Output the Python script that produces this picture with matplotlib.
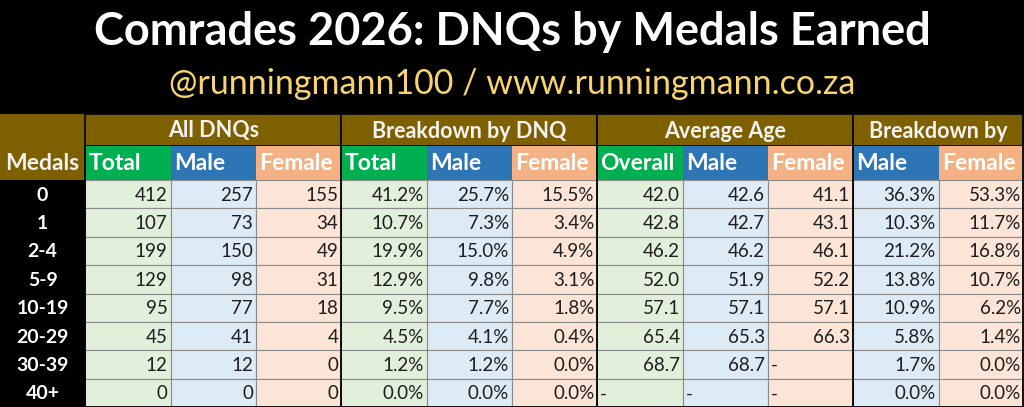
import matplotlib
matplotlib.use("Agg")
import matplotlib.pyplot as plt
from matplotlib.patches import Rectangle

# table data
medals = ['0', '1', '2-4', '5-9', '10-19', '20-29', '30-39', '40+']
total = [412, 107, 199, 129, 95, 45, 12, 0]
male = [257, 73, 150, 98, 77, 41, 12, 0]
female = [155, 34, 49, 31, 18, 4, 0, 0]
pct_total = [41.2, 10.7, 19.9, 12.9, 9.5, 4.5, 1.2, 0.0]
pct_male = [25.7, 7.3, 15.0, 9.8, 7.7, 4.1, 1.2, 0.0]
pct_female = [15.5, 3.4, 4.9, 3.1, 1.8, 0.4, 0.0, 0.0]
age_overall = [42.0, 42.8, 46.2, 52.0, 57.1, 65.4, 68.7, None]
age_male = [42.6, 42.7, 46.2, 51.9, 57.1, 65.3, 68.7, None]
age_female = [41.1, 43.1, 46.1, 52.2, 57.1, 66.3, None, None]
gender_male = [36.3, 10.3, 21.2, 13.8, 10.9, 5.8, 1.7, 0.0]
gender_female = [53.3, 11.7, 16.8, 10.7, 6.2, 1.4, 0.0, 0.0]

groups = ['All DNQs', 'Breakdown by DNQ', 'Average Age', 'Breakdown by']
group_spans = [(1, 3), (4, 6), (7, 9), (10, 11)]
sub_headers = ['Total', 'Male', 'Female', 'Total', 'Male', 'Female',
               'Overall', 'Male', 'Female', 'Male', 'Female']
sub_kind = ['g', 'b', 'f', 'g', 'b', 'f', 'g', 'b', 'f', 'b', 'f']

title = 'Comrades 2026: DNQs by Medals Earned'
subtitle = '@runningmann100 / www.runningmann.co.za'

# colours (Excel style)
BROWN = '#7f6000'
HEAD = {'g': '#00b050', 'b': '#2e75b6', 'f': '#f4b183'}
LIGHT = {'g': '#e2efda', 'b': '#ddebf7', 'f': '#fce4d6'}
TXT = '#1e1e1e'

plt.rcParams['font.family'] = ['Lato', 'DejaVu Sans']

W, H = 1024, 407
fig = plt.figure(figsize=(W / 100, H / 100), dpi=100, facecolor='black')
ax = fig.add_axes([0, 0, 1, 1])
ax.set_xlim(0, W)
ax.set_ylim(H, 0)
ax.axis('off')

ncol = 12
cw = W / ncol
h1_top, h2_top, data_top = 114, 146, 180
rh = (H - data_top) / len(medals)

ax.text(W / 2, 32, title, color='white', fontsize=32.5, fontweight='bold',
        ha='center', va='center')
ax.text(W / 2, 84, subtitle, color='#f7d46f', fontsize=24.5,
        ha='center', va='center')

# group header row
ax.add_patch(Rectangle((0, h1_top), cw, data_top - h1_top, color=BROWN, lw=0))
for name, (a, b) in zip(groups, group_spans):
    x0 = a * cw
    ax.add_patch(Rectangle((x0, h1_top), (b - a + 1) * cw, h2_top - h1_top,
                           facecolor=BROWN, edgecolor='black', lw=1.2))
    ax.text(x0 + (b - a + 1) * cw / 2, (h1_top + h2_top) / 2 + 1, name,
            color='#f2f2f2', fontsize=15.5, fontweight='bold', ha='center', va='center')

ax.text(cw / 2, (h2_top + data_top) / 2 + 1, 'Medals', color='#f2f2f2',
        fontsize=16.5, fontweight='bold', ha='center', va='center')

for i, (lab, k) in enumerate(zip(sub_headers, sub_kind)):
    x0 = (i + 1) * cw
    ax.add_patch(Rectangle((x0, h2_top), cw, data_top - h2_top,
                           facecolor=HEAD[k], edgecolor='none'))
    ax.text(x0 + 3, (h2_top + data_top) / 2 + 1, lab, color='white',
            fontsize=16.5, fontweight='bold', ha='left', va='center')

columns = [
    [str(v) for v in total],
    [str(v) for v in male],
    [str(v) for v in female],
    [f'{v:.1f}%' for v in pct_total],
    [f'{v:.1f}%' for v in pct_male],
    [f'{v:.1f}%' for v in pct_female],
    ['-' if v is None else f'{v:.1f}' for v in age_overall],
    ['-' if v is None else f'{v:.1f}' for v in age_male],
    ['-' if v is None else f'{v:.1f}' for v in age_female],
    [f'{v:.1f}%' for v in gender_male],
    [f'{v:.1f}%' for v in gender_female],
]

for r, m in enumerate(medals):
    y0 = data_top + r * rh
    yc = y0 + rh / 2 + 1
    ax.text(cw / 2, yc, m, color='white', fontsize=14, fontweight='bold',
            ha='center', va='center')
    for c, (col, k) in enumerate(zip(columns, sub_kind)):
        x0 = (c + 1) * cw
        ax.add_patch(Rectangle((x0, y0), cw, rh, facecolor=LIGHT[k],
                               edgecolor='#8a8a8a', lw=0.8))
        s = col[r]
        if s == '-':
            ax.text(x0 + 3, yc, s, color=TXT, fontsize=13.5, ha='left', va='center')
        else:
            ax.text(x0 + cw - 3, yc, s, color=TXT, fontsize=13.5, ha='right', va='center')

# darker group separators
for a, b in group_spans:
    ax.plot([a * cw, a * cw], [h2_top, H], color='black', lw=1.3)
ax.plot([W - 1, W - 1], [h1_top, H], color='black', lw=1.3)
ax.plot([cw, W], [H - 0.5, H - 0.5], color='black', lw=1.3)

fig.savefig('out.png', dpi=100, facecolor='black')
